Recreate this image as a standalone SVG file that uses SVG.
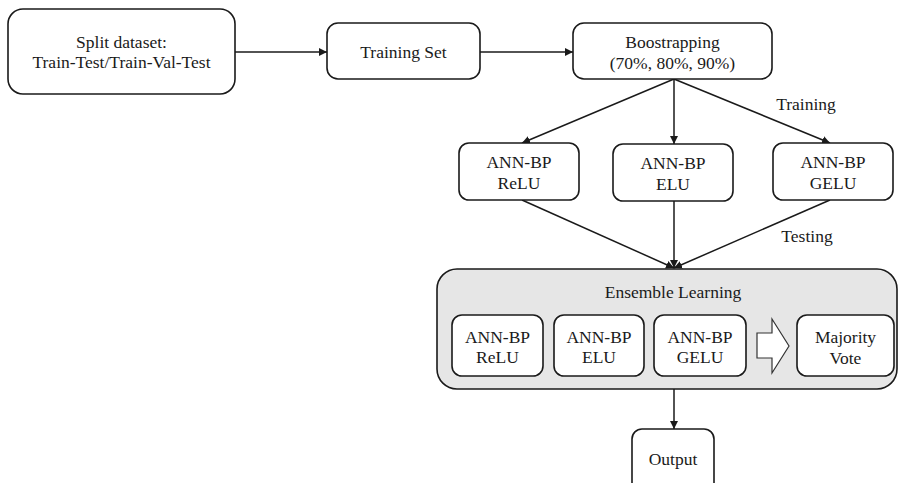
<svg xmlns="http://www.w3.org/2000/svg" width="899" height="483" viewBox="0 0 899 483">
<style>
text{font-family:"Liberation Serif","Times New Roman",serif;font-size:17.5px;fill:#1a1a1a;text-anchor:middle}
.box{fill:#fff;stroke:#1a1a1a;stroke-width:1.6}
.ens{fill:#e6e6e6;stroke:#1a1a1a;stroke-width:1.6}
.ln{stroke:#1a1a1a;stroke-width:1.5;fill:none}
</style>
<defs>
<marker id="ah" viewBox="0 0 10 10" refX="10" refY="5" markerWidth="8" markerHeight="8" markerUnits="userSpaceOnUse" orient="auto">
<path d="M0,0 L10,5 L0,10 Z" fill="#1a1a1a"/>
</marker>
</defs>
<rect width="899" height="483" fill="#fff"/>
<g id="ensemble">
<rect class="ens" x="437" y="269" width="460" height="120" rx="20"/>
<text x="673" y="298">Ensemble Learning</text>
</g>
<g id="connectors">
<line class="ln" x1="235" y1="52" x2="327" y2="52" marker-end="url(#ah)"/>
<line class="ln" x1="480" y1="52" x2="573" y2="52" marker-end="url(#ah)"/>
<line class="ln" x1="674" y1="79" x2="522" y2="143" marker-end="url(#ah)"/>
<line class="ln" x1="674" y1="79" x2="674" y2="144" marker-end="url(#ah)"/>
<line class="ln" x1="674" y1="79" x2="830" y2="143" marker-end="url(#ah)"/>
<line class="ln" x1="522" y1="200" x2="674" y2="268" marker-end="url(#ah)"/>
<line class="ln" x1="674" y1="201" x2="674" y2="268" marker-end="url(#ah)"/>
<line class="ln" x1="830" y1="200" x2="674" y2="268" marker-end="url(#ah)"/>
<line class="ln" x1="674" y1="389" x2="674" y2="429" marker-end="url(#ah)"/>
<polygon points="757,333 772,333 772,319 789,346 772,373 772,358 757,358" fill="#fff" stroke="#333" stroke-width="1.2"/>
<text x="806" y="110">Training</text>
<text x="807" y="242">Testing</text>
</g>
<g id="split">
<rect class="box" x="8" y="9" width="227" height="85" rx="15"/>
<text x="121.5" y="48">Split dataset:</text>
<text x="121.5" y="68">Train-Test/Train-Val-Test</text>
</g>
<g id="training-set">
<rect class="box" x="327" y="23" width="153" height="56" rx="11"/>
<text x="403.5" y="58">Training Set</text>
</g>
<g id="bootstrapping">
<rect class="box" x="573" y="23" width="199" height="56" rx="11"/>
<text x="672.5" y="48">Boostrapping</text>
<text x="672.5" y="69">(70%, 80%, 90%)</text>
</g>
<g id="relu">
<rect class="box" x="459" y="143" width="120" height="57" rx="10"/>
<text x="519" y="168">ANN-BP</text>
<text x="519" y="189">ReLU</text>
</g>
<g id="elu">
<rect class="box" x="613" y="144" width="120" height="57" rx="10"/>
<text x="673" y="169">ANN-BP</text>
<text x="673" y="190">ELU</text>
</g>
<g id="gelu">
<rect class="box" x="773" y="143" width="120" height="57" rx="10"/>
<text x="833" y="168">ANN-BP</text>
<text x="833" y="189">GELU</text>
</g>
<g id="ens-relu">
<rect class="box" x="452" y="315" width="91" height="61" rx="10"/>
<text x="497.5" y="343">ANN-BP</text>
<text x="497.5" y="363">ReLU</text>
</g>
<g id="ens-elu">
<rect class="box" x="554" y="315" width="90" height="61" rx="10"/>
<text x="599" y="343">ANN-BP</text>
<text x="599" y="363">ELU</text>
</g>
<g id="ens-gelu">
<rect class="box" x="654" y="315" width="92" height="61" rx="10"/>
<text x="700" y="343">ANN-BP</text>
<text x="700" y="363">GELU</text>
</g>
<g id="majority">
<rect class="box" x="797" y="315" width="97" height="61" rx="10"/>
<text x="845.5" y="343">Majority</text>
<text x="845.5" y="364">Vote</text>
</g>
<g id="output">
<rect class="box" x="632" y="429" width="82" height="70" rx="10"/>
<text x="673" y="465">Output</text>
</g>
</svg>
